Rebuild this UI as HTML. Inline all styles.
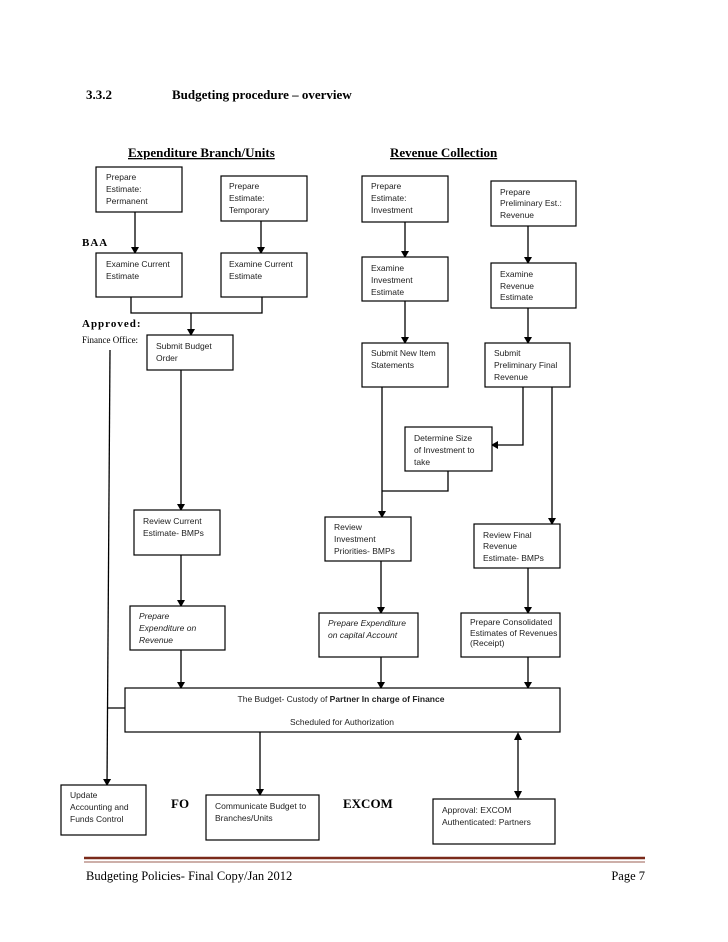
<!DOCTYPE html>
<html><head><meta charset="utf-8"><style>
html,body{margin:0;padding:0;background:#fff;}
svg{display:block;}
.b{font-family:"Liberation Sans",sans-serif;font-size:8.5px;fill:#222;}
.s{font-family:"Liberation Serif",serif;}
rect{fill:#fff;stroke:#000;stroke-width:1.2;}
line,polyline{stroke:#000;stroke-width:1.3;fill:none;}
</style></head><body>
<svg width="728" height="942" viewBox="0 0 728 942" xmlns="http://www.w3.org/2000/svg">
<defs><marker id="a" markerWidth="8" markerHeight="8" refX="6" refY="4" orient="auto" markerUnits="userSpaceOnUse"><path d="M0,0 L7,4 L0,8 z" fill="#000"/></marker></defs>
<text class="s" x="86" y="99" font-size="13" font-weight="bold">3.3.2</text>
<text class="s" x="172" y="99" font-size="13" font-weight="bold">Budgeting procedure – overview</text>
<text class="s" x="128" y="157" font-size="13" font-weight="bold" text-decoration="underline">Expenditure Branch/Units</text>
<text class="s" x="390" y="157" font-size="13" font-weight="bold" text-decoration="underline">Revenue Collection</text>
<text class="s" x="82" y="246" font-size="11" font-weight="bold" letter-spacing="1">BAA</text>
<text class="s" x="82" y="327" font-size="11" font-weight="bold" letter-spacing="1">Approved:</text>
<text class="s" x="82" y="343" font-size="9">Finance Office:</text>

<!-- lines -->
<line x1="135" y1="212" x2="135" y2="253" marker-end="url(#a)"/>
<line x1="261" y1="221" x2="261" y2="253" marker-end="url(#a)"/>
<polyline points="131,297 131,313 262,313 262,297"/>
<line x1="191" y1="313" x2="191" y2="335" marker-end="url(#a)"/>
<line x1="181" y1="370" x2="181" y2="510" marker-end="url(#a)"/>
<line x1="181" y1="555" x2="181" y2="606" marker-end="url(#a)"/>
<line x1="181" y1="650" x2="181" y2="688" marker-end="url(#a)"/>
<line x1="110" y1="350" x2="107" y2="785" marker-end="url(#a)"/>
<line x1="108" y1="708" x2="125" y2="708"/>
<line x1="405" y1="222" x2="405" y2="257" marker-end="url(#a)"/>
<line x1="405" y1="301" x2="405" y2="343" marker-end="url(#a)"/>
<line x1="528" y1="226" x2="528" y2="263" marker-end="url(#a)"/>
<line x1="528" y1="308" x2="528" y2="343" marker-end="url(#a)"/>
<polyline points="523,387 523,445 492,445" marker-end="url(#a)"/>
<line x1="382" y1="387" x2="382" y2="517" marker-end="url(#a)"/>
<polyline points="448,471 448,491 382,491"/>
<line x1="552" y1="387" x2="552" y2="524" marker-end="url(#a)"/>
<line x1="381" y1="561" x2="381" y2="613" marker-end="url(#a)"/>
<line x1="528" y1="568" x2="528" y2="613" marker-end="url(#a)"/>
<line x1="381" y1="657" x2="381" y2="688" marker-end="url(#a)"/>
<line x1="528" y1="657" x2="528" y2="688" marker-end="url(#a)"/>
<line x1="260" y1="732" x2="260" y2="795" marker-end="url(#a)"/>
<line x1="518" y1="740" x2="518" y2="791"/>
<path d="M514,740 L518,732 L522,740 z M514,791 L518,799 L522,791 z" fill="#000"/>

<!-- boxes -->
<rect x="96" y="167" width="86" height="45"/>
<text class="b" x="106" y="180">Prepare</text><text class="b" x="106" y="192">Estimate:</text><text class="b" x="106" y="204">Permanent</text>
<rect x="221" y="176" width="86" height="45"/>
<text class="b" x="229" y="189">Prepare</text><text class="b" x="229" y="201">Estimate:</text><text class="b" x="229" y="213">Temporary</text>
<rect x="96" y="253" width="86" height="44"/>
<text class="b" x="106" y="267">Examine Current</text><text class="b" x="106" y="279">Estimate</text>
<rect x="221" y="253" width="86" height="44"/>
<text class="b" x="229" y="267">Examine Current</text><text class="b" x="229" y="279">Estimate</text>
<rect x="147" y="335" width="86" height="35"/>
<text class="b" x="156" y="349">Submit Budget</text><text class="b" x="156" y="361">Order</text>
<rect x="362" y="176" width="86" height="46"/>
<text class="b" x="371" y="189">Prepare</text><text class="b" x="371" y="201">Estimate:</text><text class="b" x="371" y="213">Investment</text>
<rect x="491" y="181" width="85" height="45"/>
<text class="b" x="500" y="195">Prepare</text><text class="b" x="500" y="206">Preliminary Est.:</text><text class="b" x="500" y="218">Revenue</text>
<rect x="362" y="257" width="86" height="44"/>
<text class="b" x="371" y="271">Examine</text><text class="b" x="371" y="283">Investment</text><text class="b" x="371" y="295">Estimate</text>
<rect x="491" y="263" width="85" height="45"/>
<text class="b" x="500" y="277">Examine</text><text class="b" x="500" y="289">Revenue</text><text class="b" x="500" y="300">Estimate</text>
<rect x="362" y="343" width="86" height="44"/>
<text class="b" x="371" y="356">Submit New Item</text><text class="b" x="371" y="368">Statements</text>
<rect x="485" y="343" width="85" height="44"/>
<text class="b" x="494" y="356">Submit</text><text class="b" x="494" y="368">Preliminary Final</text><text class="b" x="494" y="380">Revenue</text>
<rect x="405" y="427" width="87" height="44"/>
<text class="b" x="414" y="441">Determine Size</text><text class="b" x="414" y="453">of Investment to</text><text class="b" x="414" y="465">take</text>
<rect x="134" y="510" width="86" height="45"/>
<text class="b" x="143" y="524">Review Current</text><text class="b" x="143" y="536">Estimate- BMPs</text>
<rect x="325" y="517" width="86" height="44"/>
<text class="b" x="334" y="530">Review</text><text class="b" x="334" y="542">Investment</text><text class="b" x="334" y="554">Priorities- BMPs</text>
<rect x="474" y="524" width="86" height="44"/>
<text class="b" x="483" y="538">Review Final</text><text class="b" x="483" y="549">Revenue</text><text class="b" x="483" y="561">Estimate- BMPs</text>
<rect x="130" y="606" width="95" height="44"/>
<text class="b" x="139" y="619" font-style="italic">Prepare</text><text class="b" x="139" y="631" font-style="italic">Expenditure on</text><text class="b" x="139" y="643" font-style="italic">Revenue</text>
<rect x="319" y="613" width="99" height="44"/>
<text class="b" x="328" y="626" font-style="italic">Prepare Expenditure</text><text class="b" x="328" y="638" font-style="italic">on capital Account</text>
<rect x="461" y="613" width="99" height="44"/>
<text class="b" x="470" y="625" font-size="7.5">Prepare Consolidated</text><text class="b" x="470" y="636" font-size="7.5">Estimates of Revenues</text><text class="b" x="470" y="646" font-size="7.5">(Receipt)</text>
<rect x="125" y="688" width="435" height="44"/>
<text class="b" x="341" y="702" text-anchor="middle">The Budget- Custody of <tspan font-weight="bold">Partner In charge of Finance</tspan></text>
<text class="b" x="342" y="725" text-anchor="middle">Scheduled for Authorization</text>
<rect x="61" y="785" width="85" height="50"/>
<text class="b" x="70" y="798">Update</text><text class="b" x="70" y="810">Accounting and</text><text class="b" x="70" y="822">Funds Control</text>
<text class="s" x="171" y="808" font-size="13" font-weight="bold">FO</text>
<rect x="206" y="795" width="113" height="45"/>
<text class="b" x="215" y="809">Communicate Budget to</text><text class="b" x="215" y="821">Branches/Units</text>
<text class="s" x="343" y="808" font-size="13" font-weight="bold">EXCOM</text>
<rect x="433" y="799" width="122" height="45"/>
<text class="b" x="442" y="813">Approval: EXCOM</text><text class="b" x="442" y="825">Authenticated: Partners</text>

<!-- footer -->
<line x1="84" y1="858" x2="645" y2="858" style="stroke:#7a2a1a;stroke-width:2.5"/>
<line x1="84" y1="862" x2="645" y2="862" style="stroke:#7a2a1a;stroke-width:0.8"/>
<text class="s" x="86" y="880" font-size="12.5">Budgeting Policies- Final Copy/Jan 2012</text>
<text class="s" x="645" y="880" font-size="12.5" text-anchor="end">Page 7</text>
</svg>
</body></html>
